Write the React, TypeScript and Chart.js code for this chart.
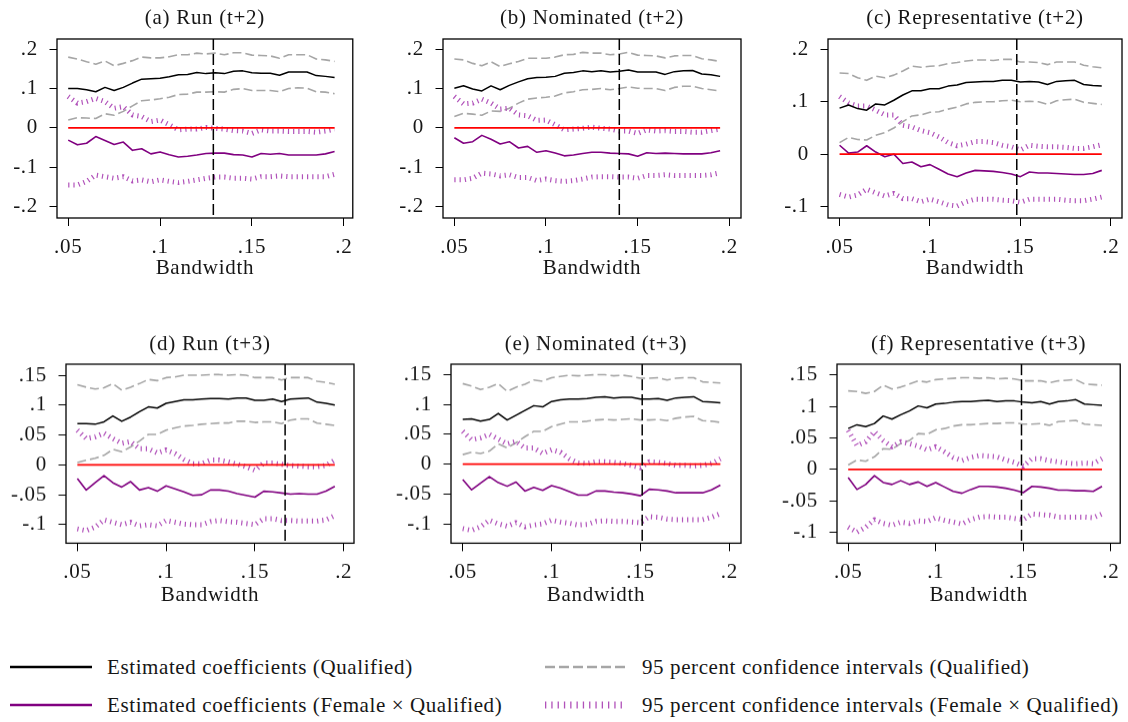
import React, { useEffect, useRef } from 'react';
import { Chart, registerables } from 'chart.js';

Chart.register(...registerables);

// ---------------- data ----------------
const bandwidths = [0.05, 0.055, 0.06, 0.065, 0.07, 0.075, 0.08, 0.085, 0.09, 0.095, 0.1, 0.105, 0.11, 0.115, 0.12, 0.125, 0.13, 0.135, 0.14, 0.145, 0.15, 0.155, 0.16, 0.165, 0.17, 0.175, 0.18, 0.185, 0.19, 0.195];

// (a) Run (t+2)
const runT2Coef = [0.100, 0.100, 0.097, 0.092, 0.103, 0.095, 0.103, 0.114, 0.124, 0.125, 0.126, 0.130, 0.135, 0.136, 0.141, 0.138, 0.140, 0.138, 0.144, 0.145, 0.140, 0.139, 0.139, 0.134, 0.142, 0.142, 0.142, 0.133, 0.131, 0.128];
const runT2Hi = [0.180, 0.175, 0.168, 0.162, 0.170, 0.158, 0.164, 0.171, 0.180, 0.178, 0.178, 0.181, 0.186, 0.186, 0.190, 0.188, 0.190, 0.186, 0.191, 0.191, 0.185, 0.184, 0.183, 0.177, 0.186, 0.186, 0.186, 0.175, 0.173, 0.169];
const runT2Lo = [0.020, 0.026, 0.025, 0.024, 0.036, 0.032, 0.042, 0.056, 0.069, 0.071, 0.074, 0.078, 0.085, 0.086, 0.091, 0.091, 0.092, 0.091, 0.098, 0.100, 0.095, 0.095, 0.095, 0.092, 0.100, 0.102, 0.101, 0.092, 0.091, 0.087];
const runT2FCoef = [-0.031, -0.043, -0.039, -0.022, -0.032, -0.042, -0.036, -0.057, -0.053, -0.066, -0.061, -0.068, -0.074, -0.072, -0.069, -0.065, -0.064, -0.064, -0.068, -0.069, -0.074, -0.065, -0.067, -0.065, -0.069, -0.069, -0.069, -0.069, -0.066, -0.060];
const runT2FHi = [0.080, 0.063, 0.067, 0.075, 0.067, 0.050, 0.054, 0.033, 0.029, 0.016, 0.020, 0.008, -0.005, -0.003, -0.003, 0.001, -0.001, -0.003, -0.007, -0.008, -0.014, -0.005, -0.008, -0.008, -0.009, -0.009, -0.009, -0.011, -0.008, -0.003];
const runT2FLo = [-0.145, -0.145, -0.136, -0.120, -0.124, -0.128, -0.124, -0.135, -0.132, -0.137, -0.132, -0.136, -0.139, -0.136, -0.132, -0.128, -0.125, -0.125, -0.128, -0.128, -0.130, -0.124, -0.124, -0.122, -0.124, -0.124, -0.124, -0.124, -0.124, -0.118];

// (b) Nominated (t+2)
const nomT2Coef = [0.101, 0.107, 0.099, 0.094, 0.107, 0.097, 0.108, 0.117, 0.125, 0.128, 0.129, 0.131, 0.139, 0.141, 0.145, 0.143, 0.145, 0.142, 0.144, 0.147, 0.142, 0.142, 0.142, 0.136, 0.143, 0.145, 0.146, 0.137, 0.135, 0.131];
const nomT2Hi = [0.175, 0.173, 0.164, 0.158, 0.168, 0.156, 0.163, 0.169, 0.177, 0.177, 0.177, 0.180, 0.186, 0.187, 0.192, 0.190, 0.190, 0.186, 0.188, 0.192, 0.185, 0.184, 0.183, 0.178, 0.183, 0.184, 0.184, 0.176, 0.173, 0.169];
const nomT2Lo = [0.029, 0.037, 0.035, 0.032, 0.043, 0.042, 0.050, 0.063, 0.073, 0.076, 0.078, 0.081, 0.089, 0.092, 0.097, 0.098, 0.100, 0.097, 0.100, 0.104, 0.101, 0.100, 0.100, 0.095, 0.103, 0.106, 0.106, 0.100, 0.097, 0.094];
const nomT2FCoef = [-0.025, -0.039, -0.035, -0.019, -0.029, -0.041, -0.035, -0.051, -0.047, -0.062, -0.058, -0.064, -0.071, -0.069, -0.065, -0.062, -0.062, -0.064, -0.065, -0.066, -0.072, -0.063, -0.065, -0.064, -0.065, -0.066, -0.066, -0.066, -0.063, -0.058];
const nomT2FHi = [0.080, 0.061, 0.063, 0.073, 0.063, 0.048, 0.050, 0.033, 0.031, 0.019, 0.020, 0.008, -0.005, -0.003, -0.001, 0.002, -0.001, -0.003, -0.008, -0.008, -0.014, -0.005, -0.008, -0.007, -0.009, -0.009, -0.011, -0.011, -0.007, -0.003];
const nomT2FLo = [-0.132, -0.132, -0.128, -0.115, -0.117, -0.122, -0.119, -0.126, -0.126, -0.134, -0.130, -0.134, -0.136, -0.134, -0.130, -0.125, -0.124, -0.124, -0.125, -0.125, -0.128, -0.121, -0.121, -0.119, -0.121, -0.121, -0.121, -0.121, -0.119, -0.114];

// (c) Representative (t+2)
const repT2Coef = [0.088, 0.094, 0.087, 0.084, 0.096, 0.094, 0.103, 0.113, 0.121, 0.121, 0.125, 0.125, 0.130, 0.132, 0.137, 0.138, 0.139, 0.139, 0.141, 0.141, 0.138, 0.139, 0.138, 0.133, 0.139, 0.140, 0.141, 0.133, 0.131, 0.130];
const repT2Hi = [0.155, 0.154, 0.146, 0.141, 0.149, 0.146, 0.151, 0.159, 0.168, 0.166, 0.168, 0.169, 0.173, 0.175, 0.178, 0.180, 0.180, 0.179, 0.181, 0.181, 0.176, 0.176, 0.175, 0.171, 0.176, 0.176, 0.176, 0.170, 0.167, 0.165];
const repT2Lo = [0.022, 0.032, 0.028, 0.027, 0.036, 0.041, 0.050, 0.062, 0.073, 0.075, 0.080, 0.081, 0.086, 0.090, 0.096, 0.099, 0.100, 0.100, 0.102, 0.103, 0.100, 0.101, 0.100, 0.095, 0.102, 0.104, 0.105, 0.099, 0.097, 0.095];
const repT2FCoef = [0.017, 0.002, 0.004, 0.016, 0.004, -0.005, 0.000, -0.018, -0.015, -0.024, -0.020, -0.029, -0.038, -0.043, -0.036, -0.031, -0.032, -0.033, -0.035, -0.038, -0.043, -0.034, -0.036, -0.036, -0.037, -0.038, -0.039, -0.039, -0.037, -0.031];
const repT2FHi = [0.110, 0.098, 0.092, 0.092, 0.084, 0.075, 0.075, 0.055, 0.052, 0.045, 0.041, 0.033, 0.022, 0.016, 0.019, 0.024, 0.024, 0.022, 0.017, 0.014, 0.008, 0.017, 0.015, 0.014, 0.014, 0.013, 0.011, 0.011, 0.014, 0.018];
const repT2FLo = [-0.077, -0.082, -0.078, -0.067, -0.074, -0.080, -0.075, -0.085, -0.085, -0.091, -0.086, -0.091, -0.097, -0.099, -0.091, -0.086, -0.086, -0.086, -0.088, -0.089, -0.092, -0.086, -0.086, -0.086, -0.086, -0.088, -0.089, -0.089, -0.086, -0.082];

// (d) Run (t+3)
const runT3Coef = [0.069, 0.069, 0.068, 0.072, 0.082, 0.073, 0.080, 0.089, 0.097, 0.095, 0.103, 0.106, 0.109, 0.109, 0.110, 0.111, 0.111, 0.110, 0.112, 0.112, 0.108, 0.108, 0.110, 0.106, 0.110, 0.111, 0.112, 0.105, 0.103, 0.100];
const runT3Hi = [0.134, 0.130, 0.127, 0.129, 0.136, 0.125, 0.130, 0.136, 0.143, 0.141, 0.146, 0.147, 0.150, 0.150, 0.150, 0.151, 0.151, 0.150, 0.151, 0.150, 0.146, 0.146, 0.146, 0.142, 0.146, 0.146, 0.146, 0.140, 0.138, 0.135];
const runT3Lo = [0.004, 0.008, 0.011, 0.016, 0.026, 0.022, 0.030, 0.040, 0.051, 0.051, 0.058, 0.062, 0.065, 0.066, 0.068, 0.069, 0.070, 0.070, 0.073, 0.073, 0.071, 0.072, 0.072, 0.069, 0.075, 0.077, 0.077, 0.070, 0.068, 0.066];
const runT3FCoef = [-0.023, -0.042, -0.030, -0.018, -0.030, -0.037, -0.028, -0.042, -0.038, -0.044, -0.035, -0.040, -0.045, -0.051, -0.050, -0.042, -0.042, -0.044, -0.048, -0.051, -0.054, -0.044, -0.045, -0.047, -0.049, -0.048, -0.049, -0.049, -0.044, -0.036];
const runT3FHi = [0.058, 0.044, 0.047, 0.053, 0.044, 0.036, 0.039, 0.027, 0.027, 0.020, 0.025, 0.019, 0.009, 0.002, 0.002, 0.008, 0.008, 0.005, 0.001, -0.003, -0.009, 0.003, 0.003, 0.001, -0.001, -0.002, -0.003, -0.003, -0.001, 0.008];
const runT3FLo = [-0.107, -0.110, -0.104, -0.092, -0.096, -0.100, -0.096, -0.102, -0.100, -0.102, -0.093, -0.096, -0.099, -0.100, -0.100, -0.095, -0.093, -0.095, -0.096, -0.098, -0.100, -0.090, -0.090, -0.093, -0.093, -0.094, -0.094, -0.094, -0.092, -0.085];

// (e) Nominated (t+3)
const nomT3Coef = [0.075, 0.076, 0.072, 0.075, 0.085, 0.074, 0.082, 0.090, 0.098, 0.096, 0.105, 0.108, 0.109, 0.109, 0.110, 0.112, 0.113, 0.111, 0.112, 0.112, 0.109, 0.109, 0.110, 0.107, 0.111, 0.112, 0.113, 0.105, 0.104, 0.103];
const nomT3Hi = [0.135, 0.131, 0.125, 0.129, 0.135, 0.122, 0.129, 0.134, 0.141, 0.139, 0.145, 0.147, 0.149, 0.148, 0.149, 0.150, 0.150, 0.148, 0.149, 0.147, 0.144, 0.144, 0.145, 0.141, 0.144, 0.145, 0.145, 0.138, 0.137, 0.136];
const nomT3Lo = [0.016, 0.020, 0.018, 0.022, 0.034, 0.027, 0.036, 0.046, 0.055, 0.055, 0.063, 0.067, 0.071, 0.071, 0.072, 0.074, 0.075, 0.074, 0.075, 0.076, 0.074, 0.074, 0.075, 0.073, 0.077, 0.079, 0.080, 0.073, 0.072, 0.070];
const nomT3FCoef = [-0.026, -0.043, -0.032, -0.021, -0.031, -0.037, -0.030, -0.045, -0.039, -0.044, -0.036, -0.040, -0.046, -0.052, -0.052, -0.045, -0.045, -0.047, -0.048, -0.050, -0.053, -0.042, -0.043, -0.045, -0.048, -0.048, -0.048, -0.048, -0.043, -0.035];
const nomT3FHi = [0.055, 0.041, 0.044, 0.050, 0.042, 0.034, 0.038, 0.027, 0.027, 0.018, 0.024, 0.020, 0.009, 0.002, 0.001, 0.004, 0.004, 0.003, 0.001, -0.002, -0.006, 0.004, 0.003, 0.001, -0.002, -0.002, -0.003, -0.002, 0.001, 0.009];
const nomT3FLo = [-0.108, -0.111, -0.105, -0.094, -0.100, -0.104, -0.098, -0.105, -0.102, -0.100, -0.094, -0.097, -0.099, -0.102, -0.101, -0.096, -0.095, -0.096, -0.096, -0.097, -0.098, -0.088, -0.089, -0.092, -0.093, -0.093, -0.093, -0.093, -0.089, -0.083];

// (f) Representative (t+3)
const repT3Coef = [0.065, 0.071, 0.068, 0.073, 0.085, 0.080, 0.087, 0.093, 0.101, 0.098, 0.104, 0.105, 0.107, 0.108, 0.108, 0.109, 0.110, 0.108, 0.109, 0.109, 0.107, 0.106, 0.108, 0.104, 0.108, 0.109, 0.111, 0.104, 0.103, 0.102];
const repT3Hi = [0.125, 0.124, 0.121, 0.124, 0.134, 0.128, 0.131, 0.136, 0.141, 0.139, 0.143, 0.144, 0.145, 0.146, 0.146, 0.145, 0.146, 0.144, 0.145, 0.144, 0.141, 0.141, 0.141, 0.138, 0.141, 0.142, 0.143, 0.136, 0.135, 0.134];
const repT3Lo = [0.007, 0.015, 0.013, 0.020, 0.033, 0.032, 0.041, 0.046, 0.057, 0.056, 0.063, 0.065, 0.069, 0.071, 0.071, 0.072, 0.073, 0.073, 0.074, 0.074, 0.072, 0.072, 0.073, 0.070, 0.076, 0.077, 0.078, 0.072, 0.071, 0.070];
const repT3FCoef = [-0.013, -0.032, -0.024, -0.010, -0.021, -0.024, -0.018, -0.024, -0.020, -0.027, -0.021, -0.028, -0.035, -0.038, -0.032, -0.027, -0.027, -0.028, -0.030, -0.033, -0.037, -0.027, -0.028, -0.030, -0.033, -0.033, -0.034, -0.034, -0.035, -0.027];
const repT3FHi = [0.062, 0.038, 0.044, 0.060, 0.046, 0.036, 0.044, 0.041, 0.037, 0.031, 0.036, 0.028, 0.019, 0.014, 0.019, 0.022, 0.021, 0.020, 0.015, 0.011, 0.005, 0.017, 0.017, 0.014, 0.012, 0.010, 0.009, 0.010, 0.009, 0.017];
const repT3FLo = [-0.092, -0.100, -0.092, -0.080, -0.086, -0.089, -0.084, -0.086, -0.082, -0.083, -0.077, -0.081, -0.084, -0.087, -0.080, -0.076, -0.075, -0.076, -0.076, -0.078, -0.080, -0.071, -0.072, -0.073, -0.076, -0.076, -0.076, -0.076, -0.077, -0.071];

const panelTitles = ['(a) Run (t+2)', '(b) Nominated (t+2)', '(c) Representative (t+2)', '(d) Run (t+3)', '(e) Nominated (t+3)', '(f) Representative (t+3)'];
const optimalBandwidths = [0.129, 0.140, 0.148, 0.167, 0.151, 0.149];

const xTicks = [0.05, 0.1, 0.15, 0.2];
const xTickLabels = ['.05', '.1', '.15', '.2'];
const yTicksWide = [-0.2, -0.1, 0, 0.1, 0.2];
const yTickLabelsWide = ['-.2', '-.1', '0', '.1', '.2'];
const yTicksRep2 = [-0.1, 0, 0.1, 0.2];
const yTickLabelsRep2 = ['-.1', '0', '.1', '.2'];
const yTicksT3 = [-0.1, -0.05, 0, 0.05, 0.1, 0.15];
const yTickLabelsT3 = ['-.1', '-.05', '0', '.05', '.1', '.15'];

const xAxisTitle = 'Bandwidth';
const legendLabels = [
  'Estimated coefficients (Qualified)',
  '95 percent confidence intervals (Qualified)',
  'Estimated coefficients (Female \u00d7 Qualified)',
  '95 percent confidence intervals (Female \u00d7 Qualified)',
];

// ---------------- styling / layout ----------------
const FONT = '"Liberation Serif", "Times New Roman", serif';
const TEXT = '#161616';
const C_BLACK = '#000000';
const C_GRAY = '#a6a6a6';
const C_PURPLE = '#800080';
const C_DOT = '#b152ba';
const C_RED = '#ff0000';
const CANVAS_SPACING = '0.7px';

type Box = { L: number; T: number; R: number; B: number };

const panels = [
  { title: panelTitles[0], vline: optimalBandwidths[0], s: [runT2Coef, runT2Hi, runT2Lo, runT2FCoef, runT2FHi, runT2FLo], yt: yTicksWide, yl: yTickLabelsWide, ymin: -0.229, ymax: 0.226, xmin: 0.0439, xmax: 0.2049, box: { L: 57, T: 39, R: 353, B: 218 }, col: 0, row: 0 },
  { title: panelTitles[1], vline: optimalBandwidths[1], s: [nomT2Coef, nomT2Hi, nomT2Lo, nomT2FCoef, nomT2FHi, nomT2FLo], yt: yTicksWide, yl: yTickLabelsWide, ymin: -0.229, ymax: 0.226, xmin: 0.0438, xmax: 0.2064, box: { L: 443, T: 39, R: 741, B: 218 }, col: 380, row: 0 },
  { title: panelTitles[2], vline: optimalBandwidths[2], s: [repT2Coef, repT2Hi, repT2Lo, repT2FCoef, repT2FHi, repT2FLo], yt: yTicksRep2, yl: yTickLabelsRep2, ymin: -0.122, ymax: 0.22, xmin: 0.0436, xmax: 0.2062, box: { L: 828, T: 39, R: 1127, B: 218 }, col: 760, row: 0 },
  { title: panelTitles[3], vline: optimalBandwidths[3], s: [runT3Coef, runT3Hi, runT3Lo, runT3FCoef, runT3FHi, runT3FLo], yt: yTicksT3, yl: yTickLabelsT3, ymin: -0.131, ymax: 0.1685, xmin: 0.0436, xmax: 0.2058, box: { L: 66, T: 364, R: 354, B: 543 }, col: 0, row: 1 },
  { title: panelTitles[4], vline: optimalBandwidths[4], s: [nomT3Coef, nomT3Hi, nomT3Lo, nomT3FCoef, nomT3FHi, nomT3FLo], yt: yTicksT3, yl: yTickLabelsT3, ymin: -0.1325, ymax: 0.1676, xmin: 0.0434, xmax: 0.2066, box: { L: 451, T: 364, R: 741, B: 543 }, col: 380, row: 1 },
  { title: panelTitles[5], vline: optimalBandwidths[5], s: [repT3Coef, repT3Hi, repT3Lo, repT3FCoef, repT3FHi, repT3FLo], yt: yTicksT3, yl: yTickLabelsT3, ymin: -0.1175, ymax: 0.1675, xmin: 0.0436, xmax: 0.2054, box: { L: 837, T: 364, R: 1126, B: 543 }, col: 760, row: 1 },
];

const rowTop = [0, 325];
const titlePad = [{ top: 5.4, bottom: 8.4 }, { top: 6.4, bottom: 7.4 }];
const xAxisHeight = [63, 64.6];

const spacingPlugin = {
  id: 'letterSpacing',
  beforeUpdate(chart: any) { chart.ctx.letterSpacing = CANVAS_SPACING; },
  beforeDraw(chart: any) { chart.ctx.letterSpacing = CANVAS_SPACING; },
};

const decorPlugin = {
  id: 'panelDecor',
  afterDatasetsDraw(chart: any, _args: any, opts: any) {
    const { ctx, chartArea } = chart;
    const x = chart.scales.x.getPixelForValue(opts.vline);
    ctx.save();
    ctx.strokeStyle = '#000';
    ctx.lineWidth = 1.5;
    ctx.setLineDash([11, 4]);
    ctx.beginPath();
    ctx.moveTo(x, chartArea.top);
    ctx.lineTo(x, chartArea.bottom);
    ctx.stroke();
    ctx.restore();
  },
  afterDraw(chart: any) {
    const { ctx, chartArea } = chart;
    ctx.save();
    ctx.strokeStyle = '#000';
    ctx.lineWidth = 1.3;
    ctx.setLineDash([]);
    ctx.strokeRect(chartArea.left, chartArea.top, chartArea.right - chartArea.left, chartArea.bottom - chartArea.top);
    ctx.restore();
  },
};

function pts(arr: number[]) {
  return bandwidths.map((b, i) => ({ x: b, y: arr[i] }));
}

function Panel({ p }: { p: any }) {
  const ref = useRef<HTMLCanvasElement>(null);
  const box: Box = p.box;
  const left = p.col;
  const top = rowTop[p.row];
  const right = Math.min(box.R + 8, 1128);
  const w = right - left;
  const yAxisW = box.L - left;
  const padRight = right - box.R;
  const h = (box.B - top) + xAxisHeight[p.row];

  useEffect(() => {
    const [coefQ, hiQ, loQ, coefF, hiF, loF] = p.s;
    const base = { pointRadius: 0, pointHoverRadius: 0, fill: false, tension: 0, borderCapStyle: 'butt', borderJoinStyle: 'round' };
    const tickFont = { family: FONT, size: 21, lineHeight: 1.2 };
    const chart = new Chart(ref.current as HTMLCanvasElement, {
      type: 'line',
      data: {
        datasets: [
          { ...base, label: 'zero', data: bandwidths.map((b) => ({ x: b, y: 0 })), borderColor: C_RED, borderWidth: 1.8 },
          { ...base, label: legendLabels[0], data: pts(coefQ), borderColor: C_BLACK, borderWidth: 1.5 },
          { ...base, label: legendLabels[2], data: pts(coefF), borderColor: C_PURPLE, borderWidth: 1.6 },
          { ...base, label: legendLabels[3] + ' hi', data: pts(hiF), borderColor: C_DOT, borderWidth: 5, borderDash: [1.2, 4] },
          { ...base, label: legendLabels[3] + ' lo', data: pts(loF), borderColor: C_DOT, borderWidth: 5, borderDash: [1.2, 4] },
          { ...base, label: legendLabels[1] + ' hi', data: pts(hiQ), borderColor: C_GRAY, borderWidth: 1.6, borderDash: [9, 4] },
          { ...base, label: legendLabels[1] + ' lo', data: pts(loQ), borderColor: C_GRAY, borderWidth: 1.6, borderDash: [9, 4] },
        ] as any,
      },
      options: {
        animation: false,
        responsive: false,
        maintainAspectRatio: false,
        devicePixelRatio: 1,
        events: [],
        layout: { padding: { left: 0, right: padRight, top: 0, bottom: 0 } },
        plugins: {
          legend: { display: false },
          tooltip: { enabled: false },
          title: {
            display: true,
            fullSize: false,
            text: p.title,
            color: TEXT,
            font: { family: FONT, size: 21, weight: 'normal', lineHeight: 1.2 },
            padding: titlePad[p.row],
          },
          panelDecor: { vline: p.vline },
        } as any,
        scales: {
          x: {
            type: 'linear',
            min: p.xmin,
            max: p.xmax,
            afterBuildTicks: (s: any) => { s.ticks = xTicks.map((v) => ({ value: v })); },
            afterFit: (s: any) => { s.height = xAxisHeight[p.row]; },
            ticks: { callback: (_v: any, i: number) => xTickLabels[i], font: tickFont, color: TEXT, padding: 8.4, maxRotation: 0, autoSkip: false },
            grid: { display: true, drawOnChartArea: false, drawTicks: true, tickLength: 8, color: '#000', lineWidth: 1 },
            border: { display: false },
            title: { display: true, text: xAxisTitle, color: TEXT, font: tickFont, padding: { top: 0, bottom: 0 } },
          },
          y: {
            type: 'linear',
            min: p.ymin,
            max: p.ymax,
            afterBuildTicks: (s: any) => { s.ticks = p.yt.map((v: number) => ({ value: v })); },
            afterFit: (s: any) => { s.width = yAxisW; },
            ticks: { callback: (_v: any, i: number) => p.yl[i], font: tickFont, color: TEXT, padding: 11.5, autoSkip: false },
            grid: { display: true, drawOnChartArea: false, drawTicks: true, tickLength: 7.5, color: '#000', lineWidth: 1 },
            border: { display: false },
          },
        } as any,
      },
      plugins: [spacingPlugin as any, decorPlugin as any],
    });
    return () => chart.destroy();
  }, []);

  return (
    <canvas
      ref={ref}
      width={w}
      height={h}
      style={{ position: 'absolute', left, top, width: w, height: h }}
    />
  );
}

function Legend() {
  const y1 = 27;
  const y2 = 65;
  const t = { dominantBaseline: 'central' as const, fontFamily: FONT, fontSize: 21, fill: TEXT, style: { letterSpacing: '0.6px' } };
  return (
    <svg width={1128} height={82} style={{ position: 'absolute', left: 0, top: 640 }}>
      <line x1={10} y1={y1} x2={92} y2={y1} stroke={C_BLACK} strokeWidth={2.6} />
      <text x={107} y={y1} {...t}>{legendLabels[0]}</text>
      <line x1={545} y1={y1} x2={628} y2={y1} stroke={C_GRAY} strokeWidth={2.6} strokeDasharray="10 4" />
      <text x={642} y={y1} {...t}>{legendLabels[1]}</text>
      <line x1={10} y1={y2} x2={92} y2={y2} stroke={C_PURPLE} strokeWidth={2.6} />
      <text x={107} y={y2} {...t}>{legendLabels[2]}</text>
      <line x1={545} y1={y2} x2={623} y2={y2} stroke={C_DOT} strokeWidth={7} strokeDasharray="1.3 5" />
      <text x={642} y={y2} {...t}>{legendLabels[3]}</text>
    </svg>
  );
}

export default function App() {
  return (
    <div style={{ position: 'absolute', left: 0, top: 0, width: 1128, height: 722, overflow: 'hidden', background: '#fff' }}>
      {panels.map((p, i) => (
        <Panel key={i} p={p} />
      ))}
      <Legend />
    </div>
  );
}
